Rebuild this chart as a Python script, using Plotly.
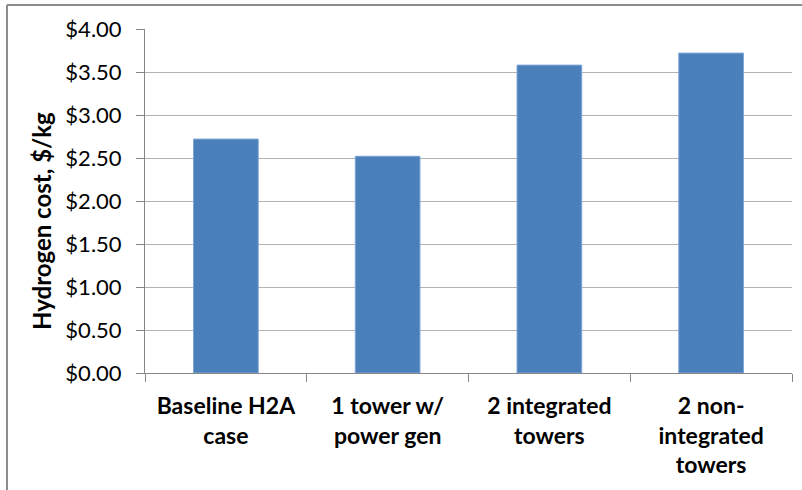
import plotly.graph_objects as go

categories = ["Baseline H2A<br>case", "1 tower w/<br>power gen", "2 integrated<br>towers", "2 non-<br>integrated<br>towers"]
costs = [2.72, 2.52, 3.58, 3.72]
y_ticks = [0, 0.5, 1.0, 1.5, 2.0, 2.5, 3.0, 3.5, 4.0]
y_tick_labels = ["$0.00", "$0.50", "$1.00", "$1.50", "$2.00", "$2.50", "$3.00", "$3.50", "$4.00"]
y_title = "Hydrogen cost, $/kg"

FONT = "Lato, Carlito, Calibri, sans-serif"

fig = go.Figure(go.Bar(
    x=categories, y=costs,
    marker=dict(color="#4A7FB9", line=dict(color="#7EA6D6", width=1)),
    width=0.4,
))

fig.update_layout(
    width=802, height=490,
    margin=dict(l=145, r=10, t=29, b=117, autoexpand=False),
    paper_bgcolor="white", plot_bgcolor="white",
    showlegend=False,
    font=dict(family=FONT, color="#000000"),
    xaxis=dict(
        type="category", automargin=False,
        tickson="boundaries", ticks="outside", ticklen=8, tickcolor="#868686",
        showline=True, linecolor="#868686", linewidth=1,
        tickfont=dict(size=23, family=FONT, weight="bold"),
        ticklabelstandoff=12,
        showgrid=False,
    ),
    yaxis=dict(
        range=[0, 4.0], tickvals=y_ticks, ticktext=y_tick_labels, automargin=False,
        ticks="outside", ticklen=8, tickcolor="#868686",
        showline=True, linecolor="#868686", linewidth=1,
        gridcolor="#B3B3B3", gridwidth=1,
        tickfont=dict(size=22, family=FONT),
        ticklabelstandoff=10,
        zeroline=False,
    ),
    annotations=[dict(
        text="<b>" + y_title + "</b>", textangle=-90,
        xref="paper", yref="paper", x=(41 - 145) / 647, y=(373 - 221) / 344,
        xanchor="center", yanchor="middle", showarrow=False,
        font=dict(size=24, family=FONT, color="#000000"),
    )],
    shapes=[
        dict(type="line", xref="paper", yref="paper",
             x0=(7 - 145) / 647, x1=(802 - 145) / 647,
             y0=(373 - 5) / 344, y1=(373 - 5) / 344,
             line=dict(color="#8C8C8C", width=2)),
        dict(type="line", xref="paper", yref="paper",
             x0=(7 - 145) / 647, x1=(7 - 145) / 647,
             y0=(373 - 5) / 344, y1=(373 - 495) / 344,
             line=dict(color="#8C8C8C", width=2)),
    ],
)

fig.write_html("out.html", config={"displayModeBar": False},
               post_script="document.body.style.margin='0';")
